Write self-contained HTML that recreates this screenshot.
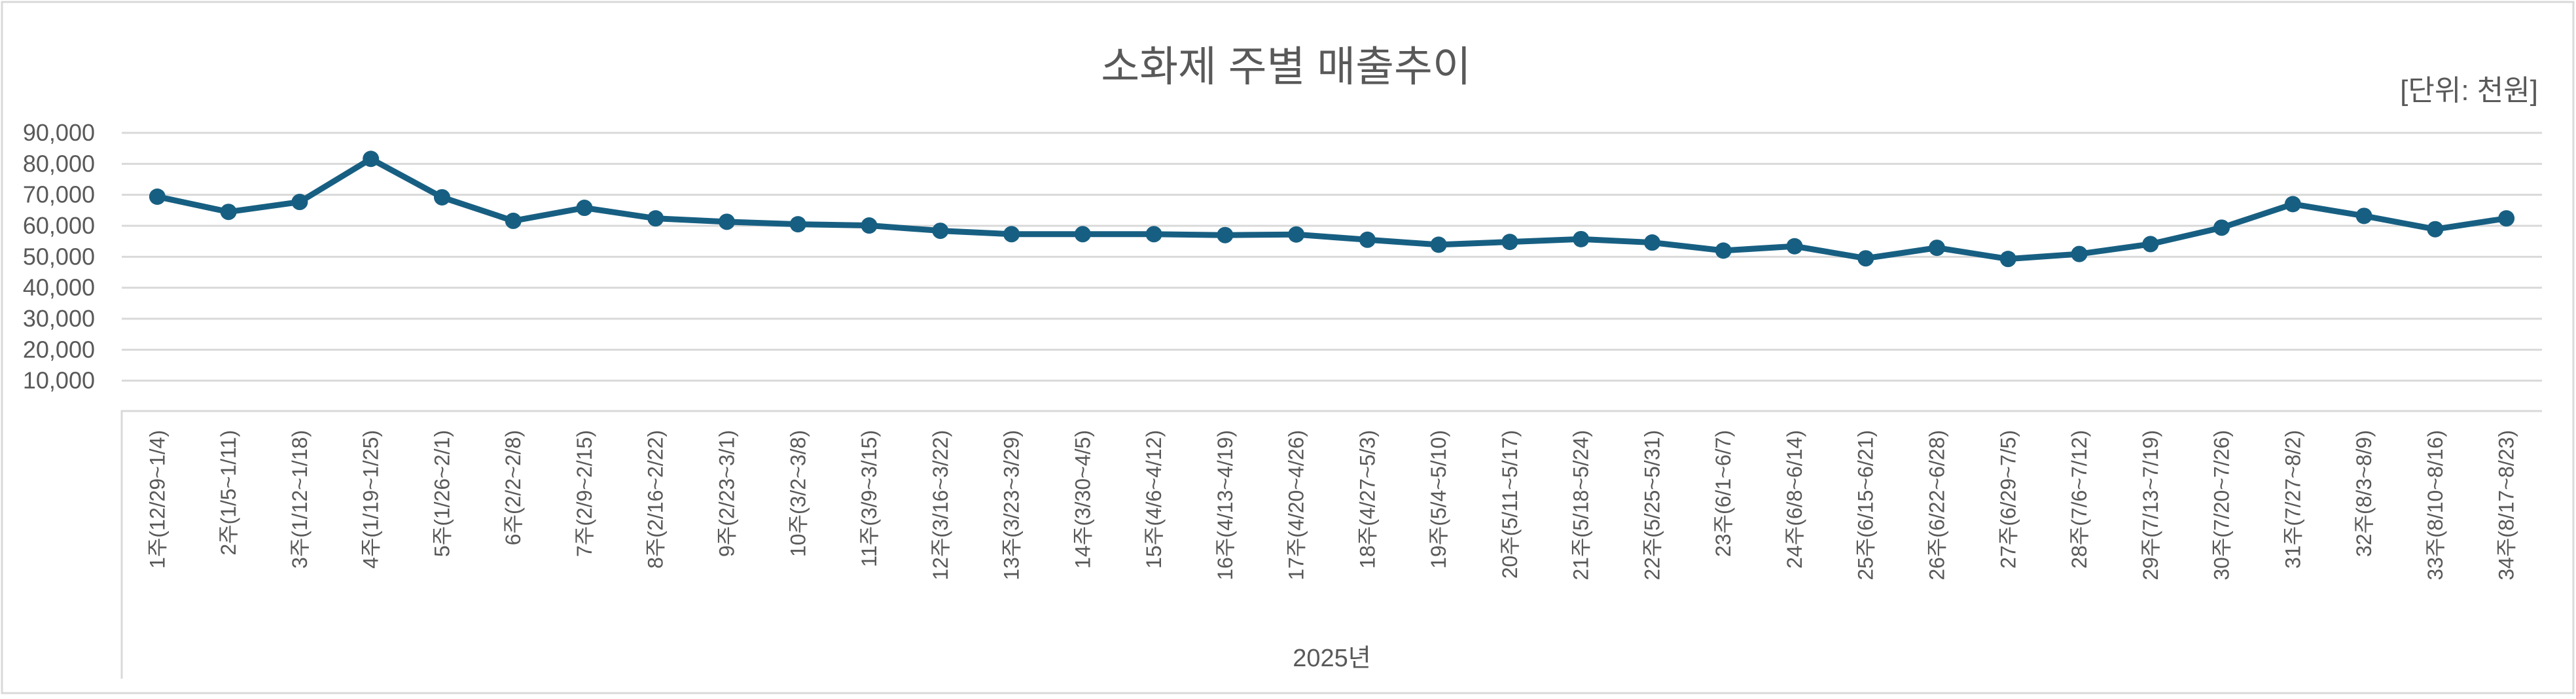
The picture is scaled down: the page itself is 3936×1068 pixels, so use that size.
<!DOCTYPE html>
<html lang="ko">
<head>
<meta charset="utf-8">
<title>소화제 주별 매출추이</title>
<style>
  html,body{margin:0;padding:0;background:#fff;}
  body{width:3936px;height:1063px;overflow:hidden;}
  svg text{font-family:"Liberation Sans","Noto Sans CJK KR",sans-serif;fill:#595959;}
</style>
</head>
<body>
<svg id="chart" xmlns="http://www.w3.org/2000/svg" width="3936" height="1063" viewBox="0 0 3936 1063">
  <rect x="3" y="3" width="3929" height="1056" fill="#fff" stroke="#d9d9d9" stroke-width="3"/>
  <text x="1965" y="124" font-size="64" text-anchor="middle">소화제 주별 매출추이</text>
  <text x="3878" y="153" font-size="44" text-anchor="end">[단위: 천원]</text>
  <g id="grid"></g>
  <g id="yaxis"></g>
  <g id="xaxis"></g>
  <g id="series"></g>
  <text x="2035" y="1018" font-size="38" text-anchor="middle">2025년</text>
</svg>
<script>
const categories = ["1주(12/29~1/4)","2주(1/5~1/11)","3주(1/12~1/18)","4주(1/19~1/25)","5주(1/26~2/1)","6주(2/2~2/8)","7주(2/9~2/15)","8주(2/16~2/22)","9주(2/23~3/1)","10주(3/2~3/8)","11주(3/9~3/15)","12주(3/16~3/22)","13주(3/23~3/29)","14주(3/30~4/5)","15주(4/6~4/12)","16주(4/13~4/19)","17주(4/20~4/26)","18주(4/27~5/3)","19주(5/4~5/10)","20주(5/11~5/17)","21주(5/18~5/24)","22주(5/25~5/31)","23주(6/1~6/7)","24주(6/8~6/14)","25주(6/15~6/21)","26주(6/22~6/28)","27주(6/29~7/5)","28주(7/6~7/12)","29주(7/13~7/19)","30주(7/20~7/26)","31주(7/27~8/2)","32주(8/3~8/9)","33주(8/10~8/16)","34주(8/17~8/23)"];
const values = [69400,64500,67700,81600,69200,61600,65800,62400,61300,60500,60100,58400,57300,57300,57300,57000,57200,55500,53900,54800,55700,54600,52000,53400,49500,52900,49300,50900,54100,59400,67000,63200,58900,62400];
const yTicks = [10000,20000,30000,40000,50000,60000,70000,80000,90000];
const yTickLabels = ["10,000","20,000","30,000","40,000","50,000","60,000","70,000","80,000","90,000"];

const NS = "http://www.w3.org/2000/svg";
const plotL = 186, plotR = 3884, plotTop = 203, plotBottom = 629, yMax = 90000;
const step = (plotR - plotL) / categories.length;
function xPos(i){ return plotL + step * (i + 0.5); }
function yPos(v){ return plotBottom - (v / yMax) * (plotBottom - plotTop); }
function mk(tag, attrs){ const e = document.createElementNS(NS, tag); for (const k in attrs) e.setAttribute(k, attrs[k]); return e; }

const grid = document.getElementById('grid');
const yaxis = document.getElementById('yaxis');
yTicks.forEach((t, i) => {
  const ln = mk('line', {x1: plotL, x2: plotR, y1: yPos(t), y2: yPos(t), stroke: '#d9d9d9', 'stroke-width': 3});
  
  
  grid.appendChild(ln);
  const tx = mk('text', {x: 145, y: yPos(t) + 12, 'font-size': 36, 'text-anchor': 'end'});
  tx.textContent = yTickLabels[i];
  
  
  yaxis.appendChild(tx);
});

const xaxis = document.getElementById('xaxis');
const box = mk('path', {d: `M${plotL} 1037 V628 H${plotR}`, fill: 'none', stroke: '#d9d9d9', 'stroke-width': 3});


xaxis.appendChild(box);
categories.forEach((c, i) => {
  const x = xPos(i) + 11;
  const tx = mk('text', {x: x, y: 657, 'font-size': 32, 'text-anchor': 'end', transform: `rotate(-90 ${x} 657)`});
  tx.textContent = c;
  
  
  xaxis.appendChild(tx);
});

const series = document.getElementById('series');
const pts = values.map((v, i) => `${xPos(i)},${yPos(v)}`).join(' ');
const pl = mk('polyline', {points: pts, fill: 'none', stroke: '#175f82', 'stroke-width': 9, 'stroke-linejoin': 'round'});


series.appendChild(pl);
values.forEach((v, i) => {
  const c = mk('circle', {cx: xPos(i), cy: yPos(v), r: 12.5, fill: '#175f82'});
  
  
  series.appendChild(c);
});
</script>
</body>
</html>
